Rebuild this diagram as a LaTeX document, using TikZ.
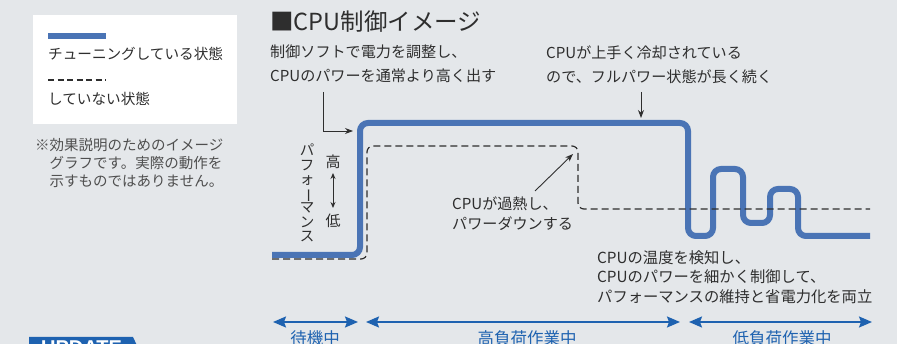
\documentclass[tikz,border=0pt]{standalone}
\usepackage{fontspec}
\usepackage{graphicx}
\setmainfont{Noto Sans CJK JP}
\newfontfamily\badgefont{Liberation Sans}
\usetikzlibrary{arrows.meta}

\definecolor{bgcol}{HTML}{E4E7EA}
\definecolor{tunecol}{HTML}{4A74B5}
\definecolor{spancol}{HTML}{1E62B0}
\definecolor{txtcol}{HTML}{2E2E2E}
\definecolor{notecol}{HTML}{4F4F4F}

\tikzset{
  legend text/.style={text=txtcol, font=\fontsize{14.6}{17}\selectfont, inner sep=0pt, anchor=west},
  call text/.style={text=txtcol, font=\fontsize{15.1}{24}\selectfont, inner sep=0pt, anchor=west, align=left},
  tune line/.style={tunecol, line width=6pt, rounded corners=8pt},
  base line/.style={txtcol, line width=1.2pt, dash pattern=on 7pt off 4pt, rounded corners=6pt},
  pointer/.style={-{Stealth[length=8pt,width=6pt]}, line width=0.9pt, txtcol},
  span arrow/.style={spancol, line width=1.8pt, {Stealth[length=13pt,width=11pt,inset=2pt]}-{Stealth[length=13pt,width=11pt,inset=2pt]}},
  span text/.style={text=spancol, font=\fontsize{16.5}{18}\selectfont, inner sep=0pt},
}

\begin{document}
\begin{tikzpicture}[x=1pt, y=-1pt]
  \useasboundingbox (0,0) rectangle (897,344);
  \clip (0,0) rectangle (897,344);
  \fill[bgcol] (0,0) rectangle (897,344);

  % legend
  \fill[white] (33,15) rectangle (237,124);
  \coordinate (legA) at (48,36);
  \coordinate (legB) at (106,36);
  \draw[tunecol, line width=6pt] (legA) -- (legB);
  \node[legend text] (legtune) at (48,54) {チューニングしている状態};
  \coordinate (legC) at (48,80);
  \coordinate (legD) at (106,80);
  \draw[txtcol, line width=1.1pt, dash pattern=on 6pt off 3.5pt] (legC) -- (legD);
  \node[legend text] (legbase) at (48,99) {していない状態};

  \node[text=notecol, font=\fontsize{14.5}{18}\selectfont, inner sep=0pt, anchor=west, align=left] (note) at (35,163)
    {※効果説明のためのイメージ\\\hspace*{1em}グラフです。実際の動作を\\\hspace*{1em}示すものではありません。};

  % title
  \node[text=txtcol, font=\fontsize{23.5}{26}\selectfont, inner sep=0pt, anchor=west] (title) at (270,22) {■CPU制御イメージ};

  % graph lines
  \draw[tune line] (272,255) -- (360,255) -- (360,123) -- (688,123) -- (688,236) -- (713,236)
    -- (713,169) -- (743,169) -- (743,223) -- (770,223) -- (770,189) -- (798,189) -- (798,236) -- (870,236);
  \draw[base line] (272,259) -- (367,259) -- (367,146) -- (578,146) -- (578,209) -- (870,209);

  % axis label
  \node[text=txtcol, font=\fontsize{14.5}{14.3}\selectfont, inner sep=0pt, align=center] (perf) at (307,193)
    {パ\\フ\\ォ\\\rotatebox[origin=c]{-90}{ー}\\マ\\ン\\ス};
  \node[text=txtcol, font=\fontsize{15}{17}\selectfont, inner sep=0pt] (high) at (333,162) {高};
  \node[text=txtcol, font=\fontsize{15}{17}\selectfont, inner sep=0pt] (low) at (333,221) {低};
  \coordinate (perfA) at (333,173);
  \coordinate (perfB) at (333,208);
  \draw[{Stealth[length=6pt,width=5pt]}-{Stealth[length=6pt,width=5pt]}, line width=0.9pt, txtcol] (perfA) -- (perfB);

  % callouts
  \node[call text] (boost) at (270,64) {制御ソフトで電力を調整し、\\CPUのパワーを通常より高く出す};
  \coordinate (boostA) at (323,92);
  \coordinate (boostB) at (323,131);
  \coordinate (boostC) at (353,131);
  \draw[pointer] (boostA) -- (boostB) -- (boostC);

  \node[call text] (cool) at (546,65) {CPUが上手く冷却されている\\ので、フルパワー状態が長く続く};
  \coordinate (coolA) at (641,92);
  \coordinate (coolB) at (641,118);
  \draw[pointer] (coolA) -- (coolB);

  \node[call text, font=\fontsize{15.1}{20}\selectfont] (hot) at (452,214) {CPUが過熱し、\\パワーダウンする};
  \coordinate (hotA) at (535,191);
  \coordinate (hotB) at (573,154);
  \draw[pointer] (hotA) -- (hotB);

  \node[call text, font=\fontsize{15.3}{19.5}\selectfont] (fine) at (597,277)
    {CPUの温度を検知し、\\CPUのパワーを細かく制御して、\\パフォーマンスの維持と省電力化を両立};

  % phases
  \coordinate (p0) at (273,322);
  \coordinate (p1) at (358,322);
  \coordinate (p2) at (366,322);
  \coordinate (p3) at (680,322);
  \coordinate (p4) at (689,322);
  \coordinate (p5) at (872,322);
  \draw[span arrow] (p0) -- (p1);
  \draw[span arrow] (p2) -- (p3);
  \draw[span arrow] (p4) -- (p5);
  \node[span text] (idle) at (315,338) {待機中};
  \node[span text] (heavy) at (527,338) {高負荷作業中};
  \node[span text] (light) at (782,338) {低負荷作業中};

  % badge
  \fill[spancol] (29,337) -- (133,337) -- (140,352) -- (29,352) -- cycle;
  \node[text=white, font=\badgefont\bfseries\fontsize{20}{22}\selectfont, inner sep=0pt, anchor=base west] (badge) at (41,355) {UPDATE};
\end{tikzpicture}
\end{document}
